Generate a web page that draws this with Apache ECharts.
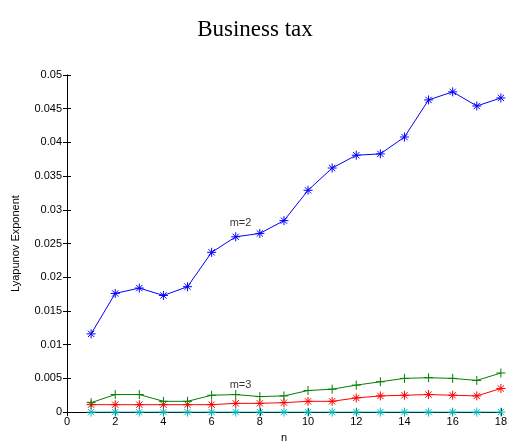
<!DOCTYPE html>
<html><head><meta charset="utf-8">
<script src="https://cdn.jsdelivr.net/npm/echarts@6/dist/echarts.min.js"></script>
<style>html,body{margin:0;padding:0;background:#fff}#c{width:510px;height:448px}</style>
</head><body><div id="c"></div>
<script>
const nValues = [1,2,3,4,5,6,7,8,9,10,11,12,13,14,15,16,17,18];
const m2 = [0.0116,0.0176,0.0184,0.0173,0.0186,0.0237,0.0260,0.0265,0.0284,0.0329,0.0362,0.0381,0.0383,0.0408,0.0463,0.0475,0.0454,0.0466];
const m3 = [0.0014,0.0026,0.0026,0.0016,0.0016,0.0025,0.0026,0.0023,0.0024,0.0032,0.0034,0.0040,0.0045,0.0050,0.0051,0.0050,0.0047,0.0058];
const m4 = [0.0011,0.0011,0.0011,0.0011,0.0011,0.0011,0.0013,0.0013,0.0014,0.0016,0.0016,0.0021,0.0024,0.0025,0.0026,0.0025,0.0024,0.0035];
const m5 = [0,0,0,0,0,0,0,0,0,0,0,0,0,0,0,0,0,0];
const xTicks = [0,2,4,6,8,10,12,14,16,18];
const yTicks = [0,0.005,0.01,0.015,0.02,0.025,0.03,0.035,0.04,0.045,0.05];
const labels = [{text:'m=2', x:7.2, y:0.0280},{text:'m=3', x:7.2, y:0.0040}];

const star = 'path://M0,-10L0,10M-10,0L10,0M-7,-7L7,7M-7,7L7,-7';
const plus = 'path://M0,-10L0,10M-10,0L10,0';
function pairs(arr){ return arr.map((v,i)=>[nValues[i], v]); }
function ser(name, data, color, symbol){
  return {name, type:'line', data:pairs(data), symbol, symbolSize:9,
    lineStyle:{color, width:1}, itemStyle:{color:'none', borderColor:color, borderWidth:1},
    emphasis:{disabled:true}, animation:false, z:3};
}
const chart = echarts.init(document.getElementById('c'));
const font = 'Liberation Sans, Arial, sans-serif';
const grid = {left:67, right:8, top:75, bottom:30};
chart.setOption({
  animation:false,
  title:{text:'Business tax', left:'center', top:13, textStyle:{fontFamily:'Liberation Serif, Times New Roman, serif', fontSize:23, fontWeight:'normal', color:'#000'}},
  grid,
  xAxis:[{type:'value', min:0, max:18, interval:2, position:'bottom',
    axisLine:{show:true, lineStyle:{color:'#000', width:1}},
    axisTick:{show:true, inside:true, length:4, lineStyle:{color:'#000'}},
    axisLabel:{color:'#000', fontFamily:font, fontSize:11, margin:4},
    splitLine:{show:false},
    name:'n', nameLocation:'middle', nameGap:16, nameTextStyle:{color:'#000', fontFamily:font, fontSize:11}},
   {type:'value', min:0, max:18, interval:2, position:'top',
    axisLine:{show:true, lineStyle:{color:'#000', width:1}},
    axisTick:{show:true, inside:true, length:4, lineStyle:{color:'#000'}},
    axisLabel:{show:false}, splitLine:{show:false}}],
  yAxis:[{type:'value', min:0, max:0.05, interval:0.005, position:'left',
    axisLine:{show:true, lineStyle:{color:'#000', width:1}},
    axisTick:{show:true, inside:true, length:4, lineStyle:{color:'#000'}},
    axisLabel:{color:'#000', fontFamily:font, fontSize:11, margin:5, formatter:v=>String(+v.toFixed(3))},
    splitLine:{show:false},
    name:'Lyapunov Exponent', nameLocation:'middle', nameGap:46, nameRotate:90, nameTextStyle:{color:'#000', fontFamily:font, fontSize:11}},
   {type:'value', min:0, max:0.05, interval:0.005, position:'right',
    axisLine:{show:true, lineStyle:{color:'#000', width:1}},
    axisTick:{show:true, inside:true, length:4, lineStyle:{color:'#000'}},
    axisLabel:{show:false}, splitLine:{show:false}}],
  series:[
    ser('m=5', m5, '#00bfbf', star),
    ser('m=4', m4, '#ff0000', star),
    ser('m=3', m3, '#008000', plus),
    ser('m=2', m2, '#0000ff', star),
    {type:'scatter', data:labels.map(l=>({value:[l.x,l.y], name:l.text})), symbolSize:0, silent:true,
     label:{show:true, formatter:p=>p.name, position:'inside', color:'#000', fontFamily:font, fontSize:11}}
  ]
});
</script></body></html>
